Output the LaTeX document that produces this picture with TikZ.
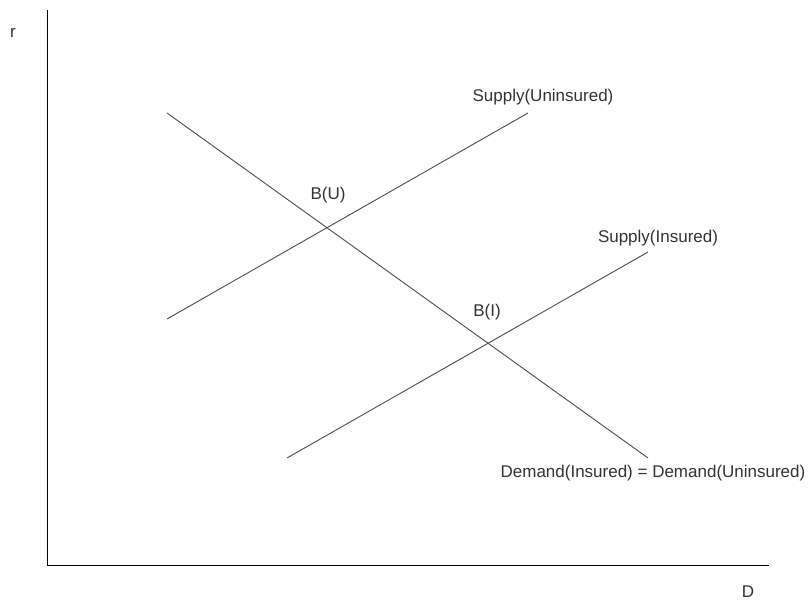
\documentclass[tikz,border=0pt]{standalone}
\usepackage{fontspec}
\setmainfont{Liberation Sans}
\begin{document}
\begin{tikzpicture}[x=1pt, y=-1pt,
    labelStyle/.style={inner sep=0pt, text=black!80, font=\fontsize{17}{20}\selectfont},
    axisStyle/.style={draw=black, line width=1pt},
    curveStyle/.style={draw=black!70, line width=0.9pt}]
    \useasboundingbox (0,0) rectangle (808,601);

    \coordinate (origin) at (47, 565);
    \coordinate (rtop) at (47, 10);
    \coordinate (dend) at (769, 565);

    \coordinate (dem1) at (167, 113);
    \coordinate (dem2) at (648, 458);
    \coordinate (su1) at (167, 319);
    \coordinate (su2) at (528, 113);
    \coordinate (si1) at (287, 458);
    \coordinate (si2) at (648, 252);

    \node[labelStyle](rLabel) at (13, 33) {r};
    \node[labelStyle](dLabel) at (748, 592) {D};
    \node[labelStyle](suLabel) at (543, 97) {Supply(Uninsured)};
    \node[labelStyle](siLabel) at (658, 238) {Supply(Insured)};
    \node[labelStyle](buLabel) at (328, 195) {B(U)};
    \node[labelStyle](biLabel) at (487, 312) {B(I)};
    \node[labelStyle](demLabel) at (653, 473) {Demand(Insured) = Demand(Uninsured)};

    \draw[axisStyle] (rtop) -- (origin) -- (dend);
    \draw[curveStyle] (dem1) -- (dem2);
    \draw[curveStyle] (su1) -- (su2);
    \draw[curveStyle] (si1) -- (si2);
\end{tikzpicture}
\end{document}
